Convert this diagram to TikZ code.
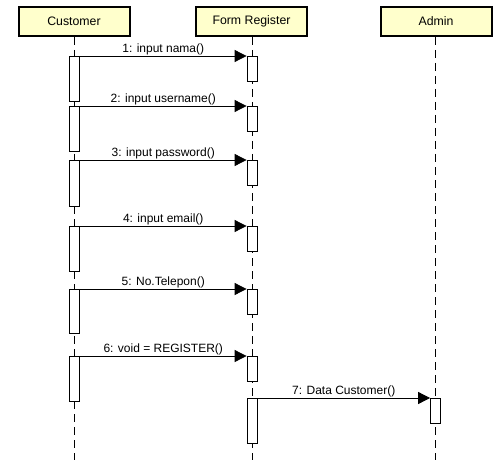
\documentclass[tikz,border=0pt]{standalone}
\usepackage{fontspec}
\setmainfont{Liberation Sans}
\usetikzlibrary{arrows.meta}
\definecolor{notefill}{HTML}{FFFFCC}

\begin{document}
\begin{tikzpicture}[
    x=1pt, y=-1pt,
    actor/.style={draw, line width=2pt, fill=notefill, minimum width=111pt,
        minimum height=29pt, inner sep=0pt, font=\fontsize{12.3}{14}\selectfont},
    lifeline/.style={line width=.8pt, dash pattern=on 8pt off 5pt},
    act/.style={draw, line width=.8pt, fill=white, minimum width=10pt,
        inner sep=0pt, anchor=north},
    msg/.style={line width=.8pt, -{Triangle[length=12pt,width=12pt]}},
    lbl/.style={above, inner sep=0.8pt, font=\fontsize{12}{14}\selectfont},
    ]

    % frame
    \useasboundingbox[fill=white] (0,0) rectangle (497,465);

    % actors and lifelines
    \node[actor] (cust)  at (74,21.5)  {Customer};
    \node[actor] (form)  at (251.5,21.5) {Form Register};
    \node[actor] (admin) at (436,21.5) {Admin};

    \coordinate (custend)  at (74,460);
    \coordinate (formend)  at (252,460);
    \coordinate (adminend) at (435,460);

    \draw[lifeline] (cust.south -| custend) -- (custend);
    \draw[lifeline] (form.south -| formend) -- (formend);
    \draw[lifeline] (admin.south -| adminend) -- (adminend);

    % messages customer -> form register
    \foreach \i/\y/\len/\txt in {1/56/45/{1: input nama()},
                                 2/106/45/{2: input username()},
                                 3/160/46/{3: input password()},
                                 4/226/45/{4: input email()},
                                 5/289/44/{5: No.Telepon()},
                                 6/356/45/{6: void = REGISTER()}} {
        \node[act, minimum height=\len pt] (c\i) at (74.5,\y) {};
        \node[act, minimum height=25pt] (f\i) at (252,\y) {};
        \draw[msg] (c\i.north east) -- node[lbl] {\txt} (f\i.north west);
    }

    % form register -> admin
    \node[act, minimum height=45pt] (f7) at (252,398) {};
    \node[act, minimum height=25pt] (a7) at (435.5,398) {};
    \draw[msg] (f7.north east) -- node[lbl] {7: Data Customer()} (a7.north west);
\end{tikzpicture}
\end{document}
